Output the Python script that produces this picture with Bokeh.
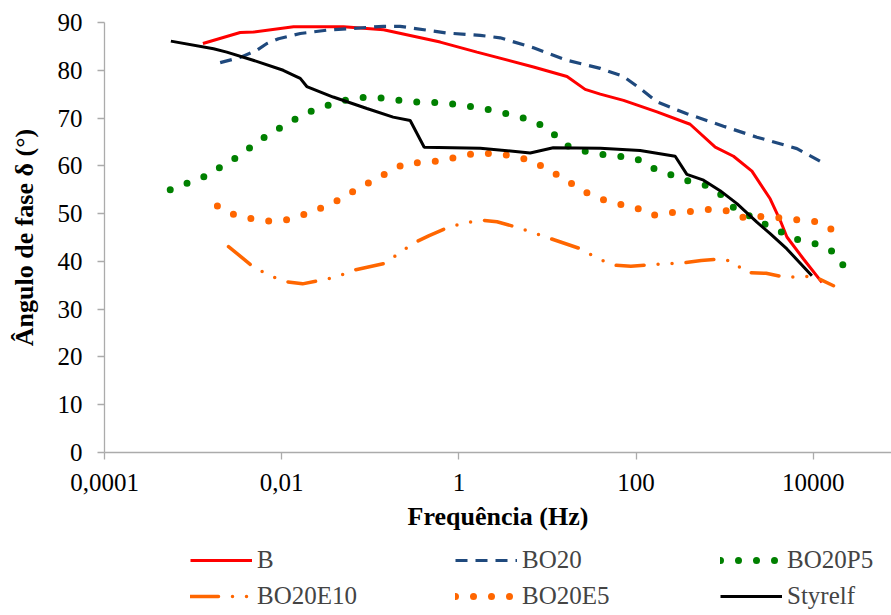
from bokeh.plotting import figure
from bokeh.models import FixedTicker, Legend, LegendItem, Range1d
from bokeh.layouts import column
from bokeh.embed import file_html
from bokeh.resources import INLINE

# ---------------- data ----------------
freq_B = [1.29e-3, 3.40e-3, 4.81e-3, 1.36e-2, 4.99e-2, 0.141, 0.615, 1.60, 6.95, 16.6, 26.6,
          39.4, 72.1, 172, 407, 782, 1256, 2028, 3258, 4227, 5035, 7745, 12500]
phase_B = [85.6, 87.9, 88.0, 89.1, 89.1, 88.5, 85.9, 83.8, 80.7, 78.7, 76.0,
           75.0, 73.7, 71.3, 68.7, 63.9, 62.0, 58.9, 53.1, 48.6, 45.1, 40.5, 35.6]

freq_BO20 = [2.02e-3, 3.40e-3, 5.25e-3, 6.81e-3, 9.20e-3, 1.19e-2, 1.62e-2, 3.24e-2, 0.141, 0.217,
             0.733, 1.74, 2.92, 6.95, 16.6, 39.4, 72.1, 111, 172, 374, 968, 2307, 6531, 13600]
phase_BO20 = [81.6, 82.7, 84.2, 85.6, 86.6, 87.1, 87.7, 88.4, 89.2, 89.2,
              87.8, 87.3, 86.8, 84.7, 82.1, 80.4, 78.7, 76.2, 73.4, 70.9, 68.3, 66.0, 63.6, 60.4]

freq_BO20P5 = [5.52e-4, 1.36e-3, 3.12e-3, 6.86e-3, 1.55e-2, 2.45e-2, 3.85e-2, 6.19e-2, 0.0998, 0.160,
               0.259, 0.682, 1.79, 4.58, 7.33, 10.9, 15.2, 23.8, 37.7, 99.5, 151, 374, 592, 906,
               1256, 2917, 6934, 11070, 16480, 22340]
phase_BO20P5 = [55.0, 57.8, 61.8, 66.4, 70.2, 71.9, 73.0, 74.1, 74.4, 74.1,
                73.4, 73.2, 72.1, 70.4, 69.2, 67.3, 64.5, 63.2, 62.5, 61.6, 59.6, 56.9, 56.0, 54.0,
                51.3, 47.7, 44.4, 43.6, 42.1, 38.9]

freq_BO20E10 = [2.51e-3, 4.61e-3, 6.92e-3, 1.08e-2, 1.72e-2, 4.09e-2, 6.30e-2, 0.147, 0.299, 0.462,
                0.713, 1.11, 1.90, 2.69, 4.21, 6.67, 10.3, 24.0, 36.1, 55.6, 87.3, 213, 343, 543,
                873, 1256, 1702, 2938, 4732, 10050, 16900]
phase_BO20E10 = [43.1, 39.1, 37.2, 35.8, 35.3, 36.7, 38.1, 39.6, 43.7, 45.4,
                 46.9, 48.0, 48.6, 48.3, 47.3, 46.1, 44.9, 42.6, 40.7, 39.2, 39.0, 39.5, 39.7, 40.2,
                 40.5, 40.0, 37.7, 37.5, 36.7, 36.9, 34.9]

freq_BO20E5 = [1.88e-3, 2.91e-3, 4.68e-3, 7.55e-3, 1.22e-2, 1.92e-2, 2.98e-2, 4.57e-2, 7.06e-2, 0.107,
               0.165, 0.254, 0.409, 0.659, 1.06, 1.71, 2.75, 4.44, 7.08, 10.9, 16.6, 24.7, 37.7,
               60.7, 97.7, 151, 238, 385, 630, 1014, 1629, 2630, 4227, 6808, 10990, 16900]
phase_BO20E5 = [51.6, 49.8, 48.9, 48.4, 48.8, 50.0, 51.4, 53.0, 55.1, 56.9,
                58.8, 60.6, 60.7, 61.1, 62.1, 62.7, 62.5, 62.0, 60.8, 58.9, 56.9, 54.8, 53.2,
                52.1, 51.3, 49.6, 50.2, 50.4, 50.9, 50.7, 49.2, 49.4, 49.1, 48.7, 48.3, 46.5]

freq_Styrelf = [5.61e-4, 1.70e-3, 2.40e-3, 4.76e-3, 1.04e-2, 1.35e-2, 1.62e-2, 1.92e-2, 3.81e-2, 9.16e-2,
                0.181, 0.282, 0.406, 1.74, 6.38, 11.6, 39.4, 111, 276, 374, 577, 887, 1374, 2307,
                3258, 5035, 9638]
phase_Styrelf = [86.1, 84.5, 83.8, 82.1, 80.0, 79.0, 78.3, 76.6, 74.4, 72.0,
                 70.2, 69.5, 63.9, 63.7, 62.7, 63.8, 63.7, 63.2, 62.0, 58.2, 57.0, 54.8, 52.1, 48.2,
                 45.8, 42.6, 37.0]

x_ticks = [1e-4, 1e-2, 1, 100, 10000]
x_tick_labels = ["0,0001", "0,01", "1", "100", "10000"]
y_ticks = [0, 10, 20, 30, 40, 50, 60, 70, 80, 90]

# series styles
STYLES = {
    "B": dict(line_color="#FF0000", line_width=3),
    "BO20": dict(line_color="#1F497D", line_width=3.2, line_dash="12 8"),
    "BO20P5": dict(line_color="#008000", line_width=7, line_dash="0 18", line_cap="round"),
    "BO20E10": dict(line_color="#FF6600", line_width=3.5, line_dash="28 14 0 14 0 14", line_cap="round"),
    "BO20E5": dict(line_color="#FF6600", line_width=7, line_dash="0 18", line_cap="round"),
    "Styrelf": dict(line_color="black", line_width=3),
}
SERIES = [("B", freq_B, phase_B), ("BO20", freq_BO20, phase_BO20),
          ("BO20P5", freq_BO20P5, phase_BO20P5), ("BO20E10", freq_BO20E10, phase_BO20E10),
          ("BO20E5", freq_BO20E5, phase_BO20E5), ("Styrelf", freq_Styrelf, phase_Styrelf)]

# ---------------- main figure ----------------
FONT = "Liberation Serif"
W = 891
p = figure(width=W, height=544, x_axis_type="log",
           x_range=Range1d(1e-4, 76300), y_range=Range1d(0, 90),
           output_backend="svg", toolbar_location=None,
           min_border_left=104, min_border_right=0, min_border_top=22, min_border_bottom=92)
p.outline_line_color = None
p.xgrid.visible = False
p.ygrid.visible = False

AX = "#ABABAB"
for ax in (p.xaxis[0], p.yaxis[0]):
    ax.axis_line_color = AX
    ax.axis_line_width = 1.3
    ax.major_tick_line_color = AX
    ax.major_tick_line_width = 1.3
    ax.minor_tick_line_color = None
    ax.major_tick_in = 0
    ax.major_tick_out = 7
    ax.major_label_text_font = FONT
    ax.major_label_text_font_size = "25px"
    ax.major_label_text_color = "black"
    ax.axis_label_text_font = FONT
    ax.axis_label_text_font_size = "26px"
    ax.axis_label_text_font_style = "bold"
    ax.axis_label_text_color = "black"

p.xaxis[0].ticker = FixedTicker(ticks=x_ticks, minor_ticks=[])
p.xaxis[0].major_label_overrides = {t: l for t, l in zip(x_ticks, x_tick_labels)}
p.xaxis[0].axis_label = "Frequência (Hz)"
p.xaxis[0].major_label_standoff = 14
p.xaxis[0].axis_label_standoff = 8

p.yaxis[0].ticker = FixedTicker(ticks=y_ticks, minor_ticks=[])
p.yaxis[0].axis_label = "Ângulo de fase δ (°)"
p.yaxis[0].major_label_standoff = 15
p.yaxis[0].axis_label_standoff = 16

for name, fx, fy in SERIES:
    p.line(fx, fy, **STYLES[name])

# ---------------- legend strip (below the chart) ----------------
# Same series drawn again, but outside this strip's visible range: only the legend samples show.
leg_fig = figure(width=W, height=71, x_range=Range1d(0, 1), y_range=Range1d(1000, 1001),
                 output_backend="svg", toolbar_location=None,
                 x_axis_location=None, y_axis_location=None, min_border=0)
leg_fig.outline_line_color = None
leg_fig.xgrid.visible = False
leg_fig.ygrid.visible = False

samples = {name: leg_fig.line(fx, fy, **STYLES[name]) for name, fx, fy in SERIES}


def make_legend(names, loc):
    return Legend(items=[LegendItem(label=n, renderers=[samples[n]]) for n in names],
                  location=loc, orientation="horizontal",
                  label_text_font=FONT, label_text_font_size="25px",
                  glyph_width=62, glyph_height=24, label_height=24,
                  label_standoff=5, label_width=198, spacing=0, padding=0, margin=0,
                  border_line_color=None, background_fill_alpha=0)


leg_fig.add_layout(make_legend(["B", "BO20", "BO20P5"], (86, 41)), "center")
leg_fig.add_layout(make_legend(["BO20E10", "BO20E5", "Styrelf"], (86, 5)), "center")

layout = column(p, leg_fig, spacing=0)
open("out.html", "w").write(file_html(layout, INLINE))
